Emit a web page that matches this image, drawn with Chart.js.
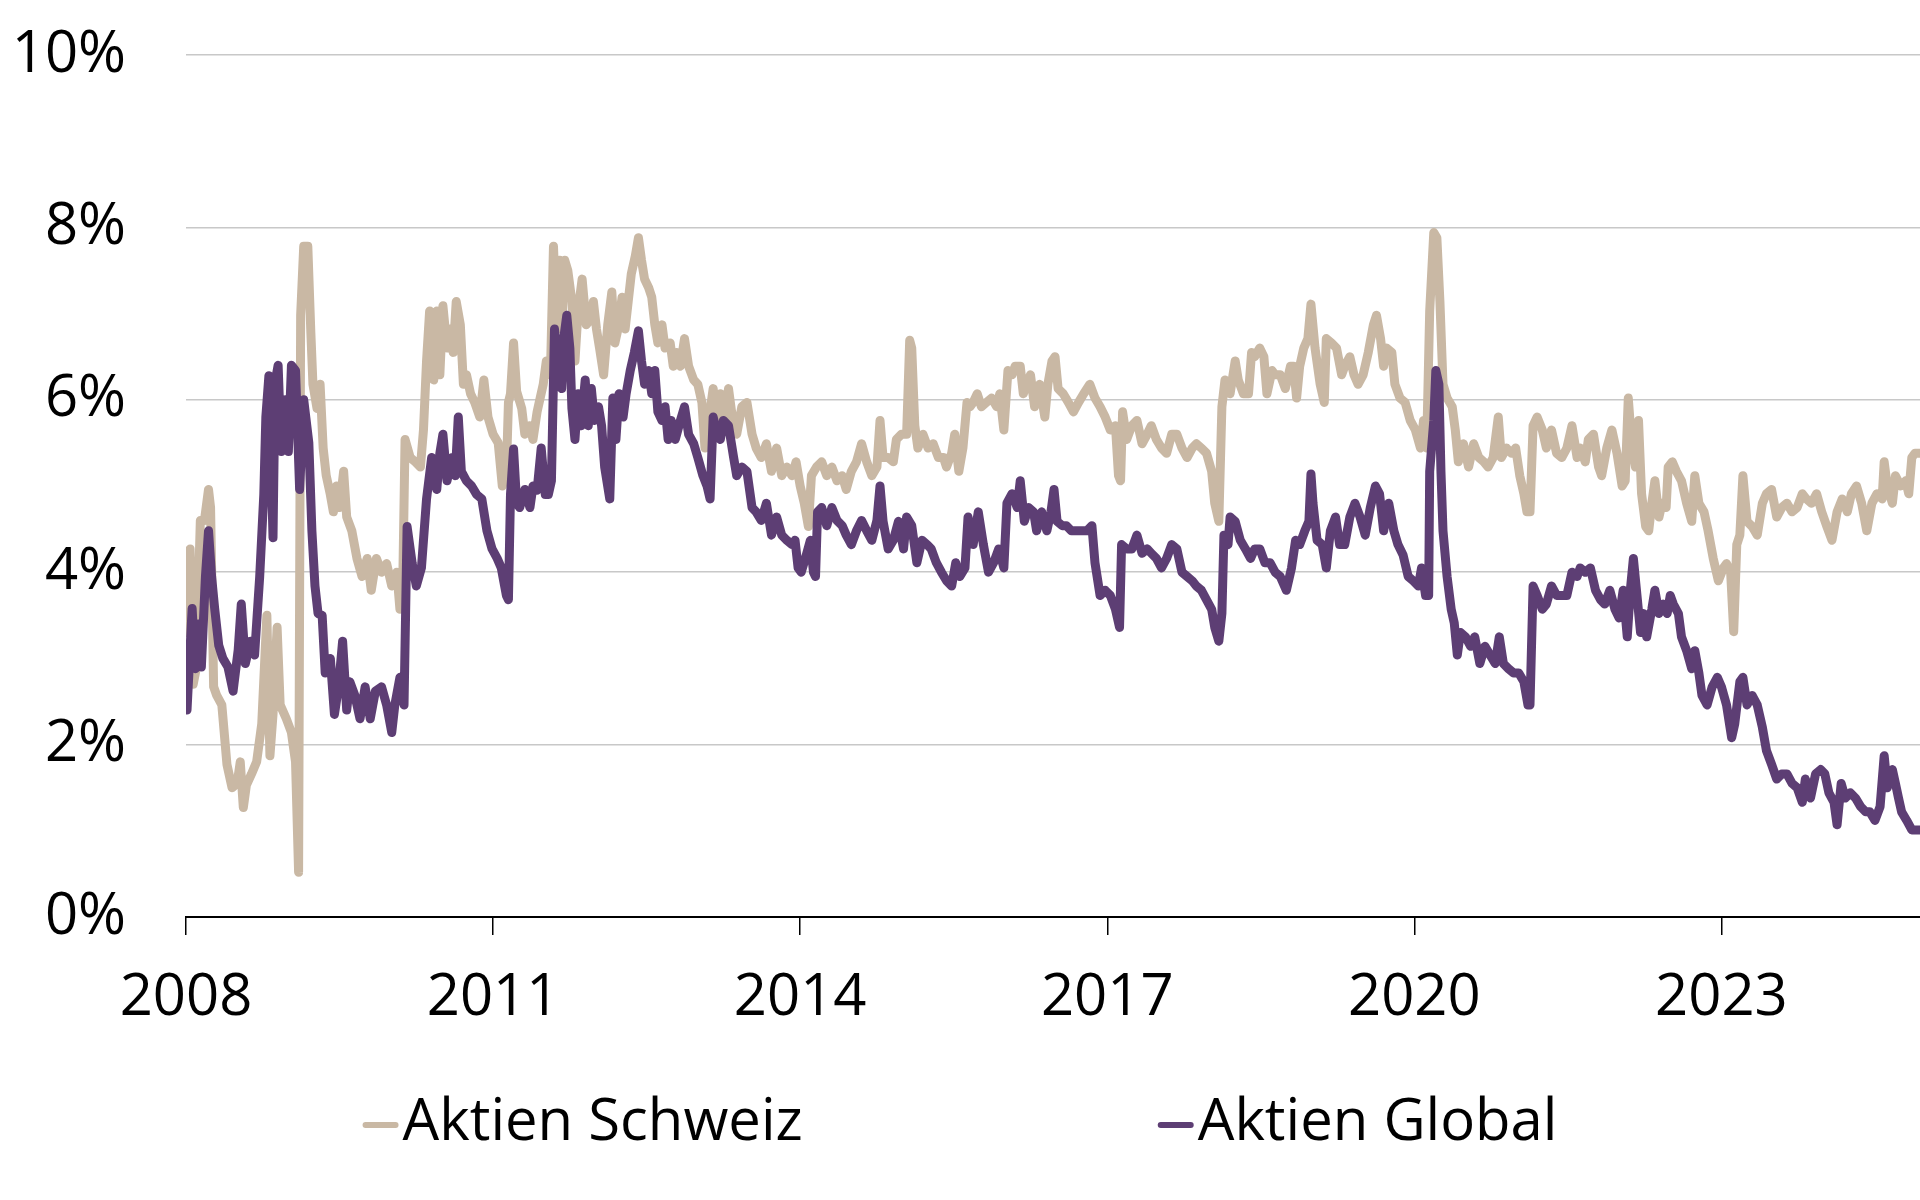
<!DOCTYPE html>
<html>
<head>
<meta charset="utf-8">
<title>Aktien Schweiz / Aktien Global</title>
<script src="https://cdn.jsdelivr.net/npm/chart.js@4.4.1/dist/chart.umd.min.js"></script>
<style>
  html, body { margin: 0; padding: 0; background: #fff; }
  #wrap { width: 1920px; height: 1200px; }
</style>
</head>
<body>
<div id="wrap"><canvas id="yieldChart" width="1920" height="1200"></canvas></div>
<script>
// x axis ticks (years) and y axis range
const yearTicks = [2008, 2011, 2014, 2017, 2020, 2023];

// Aktien Schweiz: decimal year / value in %
const schweizDates = [
  2008.01, 2008.04, 2008.07, 2008.10, 2008.14, 2008.18, 2008.22, 2008.24, 2008.27, 2008.30,
  2008.35, 2008.40, 2008.45, 2008.50, 2008.53, 2008.56, 2008.59, 2008.64, 2008.69, 2008.74,
  2008.79, 2008.82, 2008.85, 2008.89, 2008.92, 2008.98, 2009.03, 2009.07, 2009.10, 2009.12,
  2009.15, 2009.19, 2009.22, 2009.24, 2009.28, 2009.31, 2009.34, 2009.37, 2009.41, 2009.44,
  2009.47, 2009.50, 2009.54, 2009.57, 2009.62, 2009.67, 2009.72, 2009.77, 2009.81, 2009.86,
  2009.91, 2009.96, 2010.01, 2010.06, 2010.09, 2010.12, 2010.14, 2010.19, 2010.24, 2010.29,
  2010.32, 2010.35, 2010.38, 2010.42, 2010.45, 2010.48, 2010.51, 2010.55, 2010.58, 2010.61,
  2010.64, 2010.68, 2010.71, 2010.74, 2010.78, 2010.82, 2010.87, 2010.91, 2010.95, 2011.00,
  2011.05, 2011.09, 2011.13, 2011.15, 2011.17, 2011.20, 2011.23, 2011.28, 2011.31, 2011.36,
  2011.39, 2011.43, 2011.46, 2011.49, 2011.52, 2011.56, 2011.59, 2011.62, 2011.65, 2011.67,
  2011.70, 2011.73, 2011.77, 2011.80, 2011.83, 2011.87, 2011.91, 2011.95, 2011.98, 2012.01,
  2012.04, 2012.08, 2012.12, 2012.16, 2012.19, 2012.22, 2012.26, 2012.29, 2012.32, 2012.35,
  2012.39, 2012.42, 2012.45, 2012.48, 2012.52, 2012.55, 2012.58, 2012.61, 2012.65, 2012.68,
  2012.73, 2012.76, 2012.79, 2012.83, 2012.87, 2012.91, 2012.96, 2013.00, 2013.04, 2013.07,
  2013.10, 2013.15, 2013.18, 2013.22, 2013.25, 2013.30, 2013.33, 2013.38, 2013.43, 2013.48,
  2013.53, 2013.57, 2013.62, 2013.67, 2013.72, 2013.77, 2013.82, 2013.87, 2013.92, 2013.96,
  2014.00, 2014.04, 2014.08, 2014.11, 2014.16, 2014.21, 2014.26, 2014.31, 2014.36, 2014.41,
  2014.45, 2014.50, 2014.55, 2014.60, 2014.65, 2014.70, 2014.75, 2014.78, 2014.81, 2014.86,
  2014.91, 2014.94, 2014.99, 2015.04, 2015.07, 2015.09, 2015.12, 2015.15, 2015.20, 2015.25,
  2015.30, 2015.35, 2015.40, 2015.43, 2015.48, 2015.51, 2015.55, 2015.59, 2015.63, 2015.66,
  2015.69, 2015.73, 2015.77, 2015.82, 2015.87, 2015.92, 2015.95, 2015.99, 2016.03, 2016.07,
  2016.10, 2016.15, 2016.18, 2016.21, 2016.25, 2016.29, 2016.34, 2016.39, 2016.42, 2016.46,
  2016.49, 2016.52, 2016.57, 2016.62, 2016.67, 2016.72, 2016.77, 2016.83, 2016.88, 2016.93,
  2016.98, 2017.03, 2017.08, 2017.11, 2017.13, 2017.15, 2017.19, 2017.24, 2017.29, 2017.34,
  2017.39, 2017.43, 2017.48, 2017.53, 2017.58, 2017.63, 2017.68, 2017.73, 2017.78, 2017.83,
  2017.87, 2017.92, 2017.97, 2018.02, 2018.05, 2018.09, 2018.12, 2018.15, 2018.18, 2018.20,
  2018.25, 2018.28, 2018.33, 2018.38, 2018.41, 2018.44, 2018.49, 2018.53, 2018.56, 2018.61,
  2018.64, 2018.69, 2018.74, 2018.79, 2018.82, 2018.85, 2018.88, 2018.92, 2018.96, 2018.99,
  2019.03, 2019.08, 2019.12, 2019.14, 2019.19, 2019.24, 2019.29, 2019.32, 2019.37, 2019.41,
  2019.45, 2019.50, 2019.55, 2019.60, 2019.63, 2019.67, 2019.70, 2019.73, 2019.78, 2019.81,
  2019.86, 2019.91, 2019.96, 2020.01, 2020.06, 2020.09, 2020.12, 2020.15, 2020.19, 2020.22,
  2020.25, 2020.28, 2020.32, 2020.37, 2020.40, 2020.43, 2020.48, 2020.53, 2020.58, 2020.63,
  2020.68, 2020.72, 2020.77, 2020.82, 2020.85, 2020.90, 2020.95, 2020.99, 2021.03, 2021.07,
  2021.10, 2021.13, 2021.16, 2021.20, 2021.25, 2021.29, 2021.34, 2021.39, 2021.44, 2021.49,
  2021.54, 2021.59, 2021.62, 2021.67, 2021.70, 2021.75, 2021.80, 2021.83, 2021.88, 2021.93,
  2021.98, 2022.03, 2022.06, 2022.09, 2022.12, 2022.16, 2022.19, 2022.22, 2022.26, 2022.29,
  2022.32, 2022.35, 2022.39, 2022.42, 2022.46, 2022.48, 2022.52, 2022.56, 2022.61, 2022.66,
  2022.71, 2022.74, 2022.78, 2022.83, 2022.87, 2022.92, 2022.97, 2023.02, 2023.05, 2023.09,
  2023.12, 2023.15, 2023.18, 2023.21, 2023.25, 2023.30, 2023.35, 2023.40, 2023.44, 2023.49,
  2023.54, 2023.59, 2023.64, 2023.69, 2023.74, 2023.79, 2023.83, 2023.88, 2023.93, 2023.98,
  2024.03, 2024.08, 2024.13, 2024.18, 2024.23, 2024.27, 2024.32, 2024.37, 2024.42, 2024.47,
  2024.52, 2024.57, 2024.59, 2024.62, 2024.67, 2024.70, 2024.75, 2024.80, 2024.83, 2024.86,
  2024.89, 2024.94
];
const schweizValues = [
  3.3, 4.27, 2.7, 2.88, 4.6, 4.6, 4.96, 4.75, 2.67, 2.57,
  2.46, 1.77, 1.5, 1.55, 1.8, 1.27, 1.53, 1.66, 1.8, 2.24,
  3.5, 1.87, 2.35, 3.36, 2.46, 2.3, 2.14, 1.8, 0.52, 6.98,
  7.78, 7.78, 6.77, 6.18, 5.9, 6.18, 5.44, 5.12, 4.9, 4.7,
  5.0, 4.75, 5.17, 4.64, 4.48, 4.16, 3.95, 4.16, 3.79, 4.16,
  4.0, 4.1, 3.84, 4.0, 3.57, 4.05, 5.54, 5.33, 5.28, 5.22,
  5.65, 6.45, 7.03, 6.23, 7.03, 6.29, 7.09, 6.6, 6.82, 6.55,
  7.14, 6.87, 6.18, 6.29, 6.07, 5.97, 5.8, 6.23, 5.8, 5.6,
  5.5, 5.0, 5.17, 5.97, 6.07, 6.66, 6.1, 5.9, 5.6, 5.7,
  5.54, 5.86, 6.02, 6.18, 6.45, 6.29, 7.78, 6.87, 7.62, 6.82,
  7.62, 7.5, 7.14, 6.45, 7.03, 7.4, 6.87, 6.93, 7.14, 6.82,
  6.6, 6.29, 6.87, 7.25, 6.66, 6.82, 7.19, 6.82, 7.14, 7.46,
  7.67, 7.88, 7.62, 7.4, 7.3, 7.19, 6.87, 6.66, 6.87, 6.6,
  6.66, 6.39, 6.55, 6.39, 6.71, 6.39, 6.23, 6.18, 5.97, 5.44,
  5.7, 6.13, 5.8, 6.07, 5.7, 6.13, 5.86, 5.6, 5.92, 5.97,
  5.6, 5.44, 5.33, 5.49, 5.17, 5.44, 5.12, 5.22, 5.12, 5.28,
  5.0, 4.8, 4.53, 5.12, 5.22, 5.28, 5.12, 5.22, 5.06, 5.12,
  4.96, 5.17, 5.28, 5.49, 5.28, 5.12, 5.22, 5.76, 5.33, 5.33,
  5.28, 5.54, 5.6, 5.6, 6.69, 6.6, 5.7, 5.44, 5.6, 5.44,
  5.49, 5.33, 5.33, 5.22, 5.38, 5.6, 5.17, 5.44, 5.97, 5.92,
  5.97, 6.07, 5.92, 5.97, 6.02, 5.92, 6.07, 5.65, 6.34, 6.29,
  6.39, 6.39, 6.07, 6.18, 6.29, 5.92, 6.18, 5.8, 6.18, 6.45,
  6.5, 6.13, 6.07, 5.97, 5.86, 5.97, 6.07, 6.18, 6.02, 5.92,
  5.8, 5.65, 5.7, 5.12, 5.06, 5.86, 5.54, 5.7, 5.76, 5.49,
  5.6, 5.7, 5.54, 5.44, 5.38, 5.6, 5.6, 5.44, 5.33, 5.44,
  5.49, 5.44, 5.38, 5.17, 4.8, 4.59, 5.92, 6.23, 6.18, 6.07,
  6.45, 6.23, 6.07, 6.07, 6.55, 6.5, 6.6, 6.5, 6.07, 6.34,
  6.29, 6.29, 6.13, 6.39, 6.39, 6.02, 6.39, 6.6, 6.71, 7.11,
  6.6, 6.18, 5.97, 6.71, 6.66, 6.6, 6.29, 6.39, 6.5, 6.29,
  6.18, 6.29, 6.55, 6.87, 6.98, 6.71, 6.39, 6.6, 6.55, 6.18,
  6.02, 5.97, 5.76, 5.65, 5.44, 5.76, 5.44, 7.03, 7.94, 7.88,
  7.14, 6.18, 6.02, 5.92, 5.65, 5.28, 5.49, 5.22, 5.49, 5.33,
  5.28, 5.22, 5.33, 5.8, 5.33, 5.44, 5.38, 5.44, 5.12, 4.91,
  4.7, 4.7, 5.7, 5.8, 5.65, 5.44, 5.65, 5.38, 5.33, 5.44,
  5.7, 5.33, 5.44, 5.28, 5.54, 5.6, 5.22, 5.12, 5.44, 5.65,
  5.38, 5.0, 5.06, 6.02, 5.54, 5.22, 5.76, 4.91, 4.53, 4.48,
  4.8, 5.06, 4.64, 4.8, 4.75, 5.22, 5.28, 5.17, 5.06, 4.8,
  4.59, 5.12, 4.8, 4.7, 4.48, 4.16, 3.9, 4.05, 4.1, 4.0,
  3.31, 4.32, 4.43, 5.12, 4.59, 4.53, 4.43, 4.8, 4.91, 4.96,
  4.64, 4.75, 4.8, 4.7, 4.75, 4.91, 4.85, 4.8, 4.91, 4.7,
  4.53, 4.37, 4.7, 4.85, 4.7, 4.91, 5.0, 4.8, 4.48, 4.8,
  4.91, 4.85, 5.28, 5.0, 4.8, 5.12, 5.0, 5.06, 4.91, 5.33,
  5.38, 5.38
];

// Aktien Global: decimal year / value in %
const globalDates = [
  2008.01, 2008.06, 2008.09, 2008.12, 2008.15, 2008.19, 2008.22, 2008.25, 2008.28, 2008.32,
  2008.36, 2008.41, 2008.46, 2008.51, 2008.54, 2008.58, 2008.63, 2008.67, 2008.72, 2008.76,
  2008.78, 2008.81, 2008.85, 2008.87, 2008.90, 2008.93, 2008.97, 2009.00, 2009.03, 2009.07,
  2009.11, 2009.15, 2009.20, 2009.23, 2009.26, 2009.29, 2009.33, 2009.36, 2009.41, 2009.45,
  2009.49, 2009.53, 2009.57, 2009.60, 2009.65, 2009.70, 2009.75, 2009.80, 2009.85, 2009.91,
  2009.96, 2010.01, 2010.04, 2010.09, 2010.13, 2010.16, 2010.21, 2010.25, 2010.30, 2010.35,
  2010.40, 2010.45, 2010.48, 2010.51, 2010.55, 2010.60, 2010.63, 2010.66, 2010.69, 2010.74,
  2010.79, 2010.84, 2010.89, 2010.94, 2010.99, 2011.04, 2011.08, 2011.13, 2011.15, 2011.17,
  2011.20, 2011.23, 2011.26, 2011.31, 2011.36, 2011.39, 2011.43, 2011.47, 2011.51, 2011.54,
  2011.57, 2011.60, 2011.64, 2011.67, 2011.69, 2011.72, 2011.75, 2011.77, 2011.80, 2011.83,
  2011.86, 2011.90, 2011.93, 2011.96, 2011.99, 2012.03, 2012.06, 2012.09, 2012.14, 2012.17,
  2012.20, 2012.23, 2012.27, 2012.30, 2012.34, 2012.38, 2012.42, 2012.45, 2012.48, 2012.52,
  2012.55, 2012.58, 2012.61, 2012.65, 2012.68, 2012.71, 2012.74, 2012.78, 2012.83, 2012.87,
  2012.91, 2012.96, 2013.00, 2013.05, 2013.09, 2013.12, 2013.15, 2013.18, 2013.22, 2013.25,
  2013.30, 2013.35, 2013.38, 2013.43, 2013.48, 2013.53, 2013.57, 2013.62, 2013.67, 2013.72,
  2013.77, 2013.82, 2013.87, 2013.92, 2013.95, 2013.98, 2014.01, 2014.06, 2014.10, 2014.13,
  2014.15, 2014.17, 2014.21, 2014.26, 2014.31, 2014.36, 2014.41, 2014.45, 2014.50, 2014.55,
  2014.60, 2014.65, 2014.70, 2014.75, 2014.78, 2014.81, 2014.86, 2014.91, 2014.96, 2015.01,
  2015.04, 2015.09, 2015.14, 2015.19, 2015.24, 2015.28, 2015.33, 2015.38, 2015.43, 2015.48,
  2015.52, 2015.56, 2015.61, 2015.64, 2015.69, 2015.74, 2015.79, 2015.84, 2015.89, 2015.94,
  2015.99, 2016.02, 2016.07, 2016.12, 2016.15, 2016.19, 2016.23, 2016.28, 2016.31, 2016.36,
  2016.41, 2016.45, 2016.48, 2016.51, 2016.56, 2016.60, 2016.65, 2016.70, 2016.75, 2016.80,
  2016.85, 2016.88, 2016.93, 2016.98, 2017.03, 2017.08, 2017.12, 2017.14, 2017.19, 2017.24,
  2017.29, 2017.34, 2017.39, 2017.43, 2017.48, 2017.53, 2017.58, 2017.63, 2017.68, 2017.73,
  2017.78, 2017.83, 2017.87, 2017.92, 2017.97, 2018.02, 2018.05, 2018.09, 2018.12, 2018.14,
  2018.18, 2018.20, 2018.25, 2018.30, 2018.35, 2018.40, 2018.44, 2018.49, 2018.54, 2018.59,
  2018.64, 2018.69, 2018.75, 2018.80, 2018.84, 2018.88, 2018.93, 2018.97, 2018.99, 2019.01,
  2019.05, 2019.10, 2019.14, 2019.18, 2019.23, 2019.27, 2019.32, 2019.37, 2019.42, 2019.47,
  2019.52, 2019.57, 2019.62, 2019.66, 2019.70, 2019.75, 2019.80, 2019.84, 2019.89, 2019.94,
  2019.99, 2020.04, 2020.07, 2020.11, 2020.14, 2020.15, 2020.19, 2020.21, 2020.24, 2020.26,
  2020.28, 2020.32, 2020.36, 2020.39, 2020.42, 2020.45, 2020.50, 2020.55, 2020.59, 2020.64,
  2020.69, 2020.74, 2020.79, 2020.83, 2020.87, 2020.92, 2020.97, 2021.02, 2021.07, 2021.11,
  2021.13, 2021.16, 2021.20, 2021.25, 2021.29, 2021.34, 2021.39, 2021.44, 2021.49, 2021.54,
  2021.59, 2021.62, 2021.67, 2021.72, 2021.77, 2021.82, 2021.86, 2021.91, 2021.96, 2022.00,
  2022.04, 2022.08, 2022.11, 2022.14, 2022.17, 2022.21, 2022.24, 2022.27, 2022.32, 2022.35,
  2022.39, 2022.43, 2022.47, 2022.50, 2022.53, 2022.58, 2022.61, 2022.66, 2022.71, 2022.74,
  2022.78, 2022.81, 2022.86, 2022.91, 2022.96, 2023.00, 2023.05, 2023.10, 2023.13, 2023.18,
  2023.21, 2023.25, 2023.30, 2023.35, 2023.40, 2023.44, 2023.49, 2023.54, 2023.59, 2023.64,
  2023.69, 2023.74, 2023.79, 2023.82, 2023.87, 2023.92, 2023.97, 2024.01, 2024.05, 2024.10,
  2024.13, 2024.17, 2024.21, 2024.26, 2024.31, 2024.36, 2024.41, 2024.45, 2024.50, 2024.55,
  2024.59, 2024.62, 2024.67, 2024.70, 2024.73, 2024.76, 2024.81, 2024.86, 2024.91, 2024.94
];
const globalValues = [
  2.4, 3.58, 2.88, 3.4, 2.9, 3.95, 4.48, 3.95, 3.58, 3.15,
  3.0, 2.9, 2.62, 3.1, 3.63, 2.94, 3.2, 3.04, 3.95, 4.9,
  5.8, 6.28, 4.4, 6.2, 6.4, 5.4, 6.0, 5.4, 6.4, 6.34,
  4.96, 6.0, 5.5, 4.48, 3.84, 3.52, 3.5, 2.83, 3.0, 2.35,
  2.67, 3.2, 2.4, 2.73, 2.57, 2.3, 2.67, 2.3, 2.62, 2.67,
  2.46, 2.14, 2.46, 2.78, 2.46, 4.53, 4.1, 3.84, 4.05, 4.85,
  5.33, 4.96, 5.38, 5.6, 5.06, 5.33, 5.12, 5.8, 5.17, 5.06,
  5.0, 4.9, 4.85, 4.48, 4.27, 4.16, 4.05, 3.73, 3.68, 4.9,
  5.43, 4.8, 4.75, 4.96, 4.75, 5.0, 4.95, 5.44, 4.9, 4.9,
  5.06, 6.82, 6.34, 6.13, 6.71, 6.98, 6.6, 5.9, 5.54, 6.07,
  5.7, 6.23, 5.7, 6.13, 5.76, 5.92, 5.7, 5.22, 4.85, 6.02,
  5.54, 6.07, 5.8, 6.07, 6.34, 6.55, 6.8, 6.45, 6.18, 6.34,
  6.07, 6.34, 5.86, 5.76, 5.92, 5.54, 5.76, 5.54, 5.76, 5.92,
  5.6, 5.49, 5.33, 5.12, 5.0, 4.85, 5.8, 5.65, 5.54, 5.76,
  5.7, 5.33, 5.12, 5.22, 5.17, 4.75, 4.7, 4.6, 4.8, 4.43,
  4.64, 4.43, 4.37, 4.32, 4.37, 4.05, 4.0, 4.2, 4.37, 4.0,
  3.95, 4.7, 4.75, 4.54, 4.75, 4.6, 4.54, 4.43, 4.32, 4.48,
  4.6, 4.48, 4.37, 4.6, 5.0, 4.59, 4.27, 4.37, 4.59, 4.27,
  4.64, 4.54, 4.11, 4.37, 4.32, 4.27, 4.11, 4.0, 3.9, 3.84,
  4.11, 3.95, 4.05, 4.64, 4.32, 4.7, 4.32, 4.0, 4.11, 4.27,
  4.05, 4.8, 4.91, 4.75, 5.06, 4.59, 4.75, 4.7, 4.48, 4.7,
  4.48, 4.7, 4.96, 4.59, 4.54, 4.54, 4.48, 4.48, 4.48, 4.48,
  4.54, 4.11, 3.73, 3.79, 3.73, 3.57, 3.36, 4.32, 4.27, 4.27,
  4.43, 4.22, 4.27, 4.22, 4.16, 4.05, 4.16, 4.32, 4.27, 4.0,
  3.95, 3.9, 3.84, 3.79, 3.68, 3.57, 3.36, 3.2, 3.52, 4.43,
  4.32, 4.64, 4.59, 4.37, 4.27, 4.16, 4.27, 4.27, 4.11, 4.11,
  4.0, 3.95, 3.79, 4.05, 4.37, 4.32, 4.48, 4.59, 5.14, 4.8,
  4.37, 4.32, 4.05, 4.48, 4.64, 4.32, 4.32, 4.64, 4.8, 4.64,
  4.43, 4.75, 5.0, 4.91, 4.48, 4.8, 4.48, 4.32, 4.2, 3.95,
  3.9, 3.84, 4.05, 3.73, 3.73, 5.17, 5.76, 6.34, 6.18, 5.17,
  4.48, 3.95, 3.57, 3.41, 3.04, 3.3, 3.25, 3.14, 3.25, 2.94,
  3.14, 3.04, 2.94, 3.25, 2.94, 2.88, 2.83, 2.83, 2.73, 2.46,
  2.46, 3.84, 3.73, 3.57, 3.63, 3.84, 3.73, 3.73, 3.73, 4.0,
  3.95, 4.05, 4.0, 4.05, 3.79, 3.68, 3.63, 3.79, 3.57, 3.47,
  3.79, 3.25, 3.79, 4.16, 3.79, 3.3, 3.52, 3.25, 3.57, 3.79,
  3.52, 3.63, 3.52, 3.73, 3.63, 3.52, 3.25, 3.09, 2.88, 3.09,
  2.83, 2.57, 2.46, 2.67, 2.78, 2.67, 2.46, 2.08, 2.24, 2.73,
  2.78, 2.46, 2.57, 2.46, 2.2, 1.93, 1.77, 1.6, 1.66, 1.66,
  1.55, 1.5, 1.33, 1.6, 1.38, 1.66, 1.71, 1.66, 1.44, 1.33,
  1.07, 1.55, 1.38, 1.44, 1.38, 1.28, 1.22, 1.22, 1.12, 1.28,
  1.87, 1.5, 1.71, 1.55, 1.38, 1.22, 1.12, 1.01, 1.01, 1.01
];

const toPoints = (xs, ys) => xs.map((x, i) => ({ x: x, y: ys[i] }));

// legend drawn below the plot: short line marker + label, items spread out
const lineLegend = {
  id: 'lineLegend',
  afterDraw(chart) {
    const ctx = chart.ctx;
    const sets = chart.data.datasets;
    const markW = 36, markGap = 4, itemGap = 355;
    ctx.save();
    ctx.font = '58px "Open Sans", sans-serif';
    ctx.textBaseline = 'middle';
    const widths = sets.map(ds => markW + markGap + ctx.measureText(ds.label).width);
    const total = widths.reduce((a, b) => a + b, 0) + itemGap * (sets.length - 1);
    let x = (chart.width - total) / 2;
    const y = chart.height - 77;
    sets.forEach((ds, i) => {
      ctx.strokeStyle = ds.borderColor;
      ctx.lineWidth = 6;
      ctx.lineCap = 'round';
      ctx.beginPath();
      ctx.moveTo(x + 3, y + 2);
      ctx.lineTo(x + markW - 3, y + 2);
      ctx.stroke();
      ctx.fillStyle = '#000';
      ctx.fillText(ds.label, x + markW + markGap, y);
      x += widths[i] + itemGap;
    });
    ctx.restore();
  }
};

Chart.defaults.font.family = '"Open Sans", sans-serif';
Chart.defaults.color = '#000';

const ctx = document.getElementById('yieldChart').getContext('2d');
new Chart(ctx, {
  type: 'line',
  data: {
    datasets: [{
      label: 'Aktien Schweiz',
      data: toPoints(schweizDates, schweizValues),
      borderColor: '#c9b8a4',
      borderWidth: 9,
      pointRadius: 0,
      borderJoinStyle: 'round',
      borderCapStyle: 'round',
      order: 1
    }, {
      label: 'Aktien Global',
      data: toPoints(globalDates, globalValues),
      borderColor: '#5d3e74',
      borderWidth: 9,
      pointRadius: 0,
      borderJoinStyle: 'round',
      borderCapStyle: 'round',
      order: 0
    }]
  },
  options: {
    responsive: false,
    animation: false,
    devicePixelRatio: 1,
    layout: { padding: { top: 55, right: 0, bottom: 150, left: 0 } },
    plugins: {
      legend: { display: false },
      tooltip: { enabled: false }
    },
    scales: {
      x: {
        type: 'linear',
        min: 2008,
        max: 2024.94,
        afterBuildTicks: axis => { axis.ticks = yearTicks.map(v => ({ value: v })); },
        afterFit: axis => { axis.height = 133; },
        grid: { drawOnChartArea: false, drawTicks: true, tickLength: 18, color: '#000', lineWidth: 1.5 },
        border: { display: true, color: '#000', width: 2 },
        ticks: {
          padding: 29,
          color: '#000',
          font: { size: 58 },
          maxRotation: 0,
          autoSkip: false,
          callback: v => String(v)
        }
      },
      y: {
        min: 0,
        max: 10,
        afterFit: axis => {
          axis.width = 186;
          axis.paddingTop = 0;
          axis.paddingBottom = 0;
        },
        grid: { color: '#c8c8c8', lineWidth: 1.5, drawTicks: false },
        border: { display: false },
        ticks: {
          stepSize: 2,
          padding: 60,
          color: '#000',
          font: { size: 58 },
          callback: v => v + '%'
        }
      }
    }
  },
  plugins: [lineLegend]
});
</script>
</body>
</html>
